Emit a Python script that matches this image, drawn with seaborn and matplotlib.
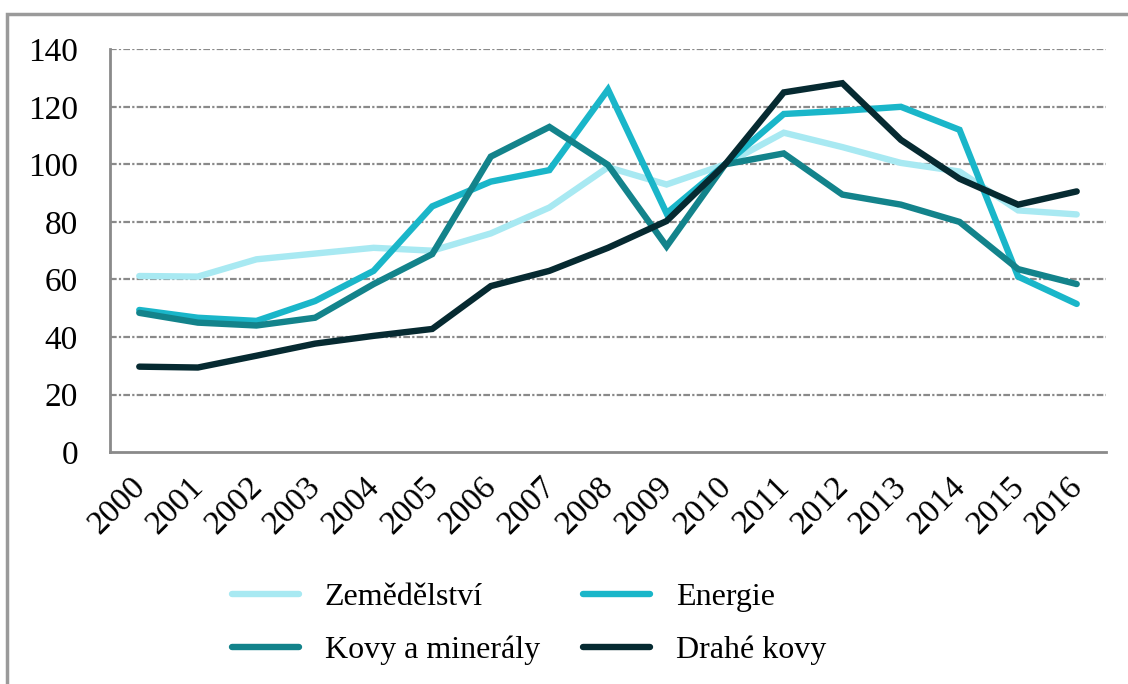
import numpy as np
import pandas as pd
import matplotlib
matplotlib.use("Agg")
import matplotlib.pyplot as plt
import matplotlib.transforms as mtransforms
from matplotlib.patches import Rectangle
import seaborn as sns

years = [str(y) for y in range(2000, 2017)]

zemedelstvi = [61.2, 61.0, 67.0, 69.0, 71.0, 70.0, 76.0, 85.0, 99.0, 93.0,
               100.0, 111.0, 106.0, 100.5, 97.5, 84.0, 82.6]
energie = [49.4, 46.7, 45.6, 52.5, 63.0, 85.4, 94.0, 98.0, 126.0, 83.0,
           100.0, 117.5, 118.6, 120.0, 112.0, 61.0, 51.5]
kovy = [48.4, 45.0, 44.0, 46.7, 58.4, 68.8, 102.7, 113.0, 99.8, 71.5,
        100.0, 103.8, 89.5, 86.0, 80.0, 63.6, 58.4]
drahe_kovy = [29.7, 29.4, 33.5, 37.7, 40.4, 42.8, 57.7, 63.0, 71.0, 80.3,
              100.0, 125.0, 128.2, 108.5, 95.0, 86.0, 90.6]

series_names = ["Zemědělství", "Energie", "Kovy a minerály", "Drahé kovy"]
series_values = [zemedelstvi, energie, kovy, drahe_kovy]
colors = ["#a8e9f2", "#1ab6c9", "#13838b", "#062a31"]

rows = []
for name, vals in zip(series_names, series_values):
    for i, v in enumerate(vals):
        rows.append({"idx": i, "value": v, "series": name})
df = pd.DataFrame(rows)

sns.set_theme(style="white")
plt.rcParams["font.family"] = ["Liberation Serif", "DejaVu Serif"]
plt.rcParams["text.color"] = "black"
plt.rcParams["xtick.labelcolor"] = "black"
plt.rcParams["ytick.labelcolor"] = "black"

fig = plt.figure(figsize=(11.28, 6.84), dpi=100)
ax = fig.add_axes([0.0975, 0.339, 0.883, 0.589])

lw = 4.6
sns.lineplot(
    data=df, x="idx", y="value", hue="series",
    hue_order=series_names, palette=colors,
    linewidth=lw, ax=ax, legend=False,
)
for line in ax.get_lines():
    line.set_solid_capstyle("round")
    line.set_solid_joinstyle("miter")

grid_color = "#8a8a8a"
ax.set_ylim(0, 140)
ax.set_yticks(range(0, 141, 20))
ax.set_xlim(-0.5, 16.5)
ax.set_xticks(range(17))
ax.set_xticklabels(years, rotation=45, ha="right", fontsize=24)
ax.set_xticks(np.arange(-0.5, 17, 1), minor=True)
ax.tick_params(axis="x", which="major", length=0, pad=14, labelcolor="black")
ax.tick_params(axis="x", which="minor", length=10, width=2, color=grid_color, direction="out")
ax.tick_params(axis="y", length=10, width=2, color=grid_color, direction="out",
               labelsize=24, pad=13, labelcolor="black")
ax.set_xlabel("")
ax.set_ylabel("")

# nudge the rotated year labels a little to the right
shift = mtransforms.ScaledTranslation(0.12, 0, fig.dpi_scale_trans)
for lbl in ax.get_xticklabels():
    lbl.set_transform(lbl.get_transform() + shift)

for y in range(20, 141, 20):
    ax.axhline(y, color=grid_color, lw=1.6, ls=(0, (3, 1, 1, 1)), zorder=0)

for side in ["top", "right"]:
    ax.spines[side].set_visible(False)
for side in ["left", "bottom"]:
    ax.spines[side].set_color(grid_color)
    ax.spines[side].set_linewidth(2)

# legend fills column by column, so reorder to get two rows
order = [0, 2, 1, 3]
handles = [plt.Line2D([], [], color=colors[k], lw=lw, solid_capstyle="round") for k in order]
labels = [series_names[k] for k in order]
leg = fig.legend(
    handles, labels, loc="center", bbox_to_anchor=(0.469, 0.088),
    ncol=2, frameon=False, fontsize=23, handlelength=2.1,
    columnspacing=1.35, handletextpad=0.8, labelspacing=0.75,
)
for t in leg.get_texts():
    t.set_color("black")

fig.patches.append(Rectangle((0.006, -0.02), 1.1, 0.999, transform=fig.transFigure,
                             fill=False, edgecolor="#9a9a9a", lw=2.5))

fig.savefig("out.png", dpi=100)
